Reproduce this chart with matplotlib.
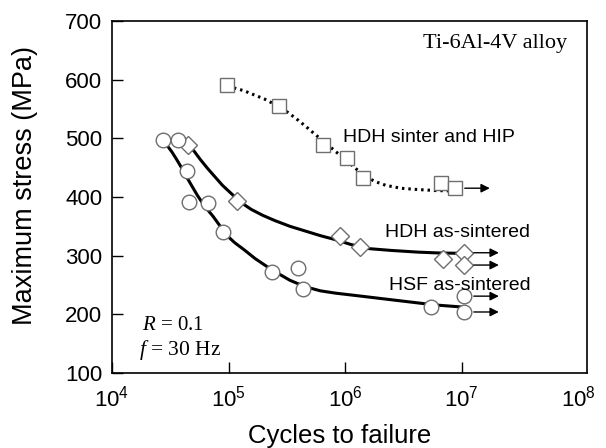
import numpy as np
import matplotlib
matplotlib.use("Agg")
import matplotlib.pyplot as plt

plt.rcParams['font.family'] = ['Liberation Sans', 'DejaVu Sans']
plt.rcParams['mathtext.fontset'] = 'custom'
plt.rcParams['mathtext.rm'] = 'Liberation Sans'
plt.rcParams['mathtext.it'] = 'Liberation Serif:italic'

# ---- data: HDH sinter and HIP (squares) ----
hip_N = [9.7e4, 2.7e5, 6.4e5, 1.04e6, 1.42e6, 6.6e6, 8.7e6]
hip_S = [591, 555, 489, 466, 432, 424, 415]
hip_runout_N = [8.7e6]
hip_runout_S = [415]
hip_fit_N = [1.11e5, 1.36e5, 1.66e5, 2.03e5, 2.48e5, 3.03e5, 3.72e5, 4.55e5, 5.57e5, 6.81e5,
             8.34e5, 1.02e6, 1.24e6, 1.51e6, 1.83e6, 2.22e6, 2.98e6, 4.0e6, 5.9e6, 1.0e7]
hip_fit_S = [586, 581, 574, 567, 558, 548, 535, 521, 506, 492,
             477, 463, 448, 434, 426, 420, 415, 413, 411, 410]

# ---- data: HDH as-sintered (diamonds) ----
hdh_N = [4.5e4, 1.17e5, 9.0e5, 1.34e6, 6.9e6, 1.04e7, 1.04e7]
hdh_S = [489, 393, 334, 315, 294, 305, 284]
hdh_runout_N = [1.04e7, 1.04e7]
hdh_runout_S = [305, 284]
hdh_fit_N = [4.08e4, 4.52e4, 5.11e4, 5.77e4, 6.65e4, 7.67e4, 8.85e4, 1.04e5, 1.27e5, 1.56e5, 1.95e5,
             2.48e5, 3.36e5, 4.55e5, 6.15e5, 8.34e5, 1.12e6, 1.6e6, 2.45e6, 4.24e6, 6.52e6, 1.0e7]
hdh_fit_S = [502, 490, 477, 463, 448, 434, 420, 407, 391, 379, 369,
             360, 350, 342, 334, 327, 319, 312, 309, 306, 304.5, 304]

# ---- data: HSF as-sintered (circles) ----
hsf_N = [2.72e4, 3.68e4, 4.43e4, 4.61e4, 6.65e4, 9.04e4, 2.38e5, 3.95e5, 4.37e5, 5.46e6, 1.04e7, 1.04e7]
hsf_S = [497, 497, 444, 392, 390, 340, 272, 279, 243, 213, 231, 204]
hsf_runout_N = [1.04e7, 1.04e7]
hsf_runout_S = [231, 204]
hsf_fit_N = [2.66e4, 2.94e4, 3.26e4, 3.61e4, 4.0e4, 4.43e4, 4.9e4, 5.43e4, 6.25e4, 7.36e4, 8.49e4,
             9.6e4, 1.13e5, 1.36e5, 1.69e5, 2.15e5, 2.75e5, 3.36e5, 4.55e5, 6.15e5, 8.34e5,
             1.37e6, 2.22e6, 3.62e6, 5.9e6, 1.0e7]
hsf_fit_S = [500, 489, 477, 463, 448, 432, 417, 402, 384, 367, 350,
             335, 322, 310, 295, 281, 268, 258, 247, 240, 236,
             231, 226, 221, 216, 212.5]

xticks = [1e4, 1e5, 1e6, 1e7, 1e8]
yticks = [100, 200, 300, 400, 500, 600, 700]

fig = plt.figure(figsize=(6.06, 4.48), dpi=100)
ax = fig.add_axes([112/606, 1-373/448, 475/606, 352/448])
ax.set_xscale('log')
ax.set_xlim(1e4, 1.186e8)
ax.set_ylim(100, 700)

edge = '#6e6e6e'
ax.plot(hip_fit_N, hip_fit_S, color='k', lw=2.2, ls=(0, (0.8, 1.3)), zorder=2)
ax.plot(hdh_fit_N, hdh_fit_S, color='k', lw=2.2, zorder=2)
ax.plot(hsf_fit_N, hsf_fit_S, color='k', lw=2.2, zorder=2)

ax.plot(hip_N, hip_S, ls='none', marker='s', ms=9.4, mfc='white', mec=edge, mew=1.0, zorder=3)
ax.plot(hdh_N, hdh_S, ls='none', marker='D', ms=9.0, mfc='white', mec=edge, mew=1.0, zorder=3)
ax.plot(hsf_N, hsf_S, ls='none', marker='o', ms=10.5, mfc='white', mec=edge, mew=1.0, zorder=3)

for N, S in list(zip(hip_runout_N, hip_runout_S)) + list(zip(hdh_runout_N, hdh_runout_S)) + list(zip(hsf_runout_N, hsf_runout_S)):
    ax.annotate('', xy=(N * 2.0, S), xytext=(N * 1.22, S),
                arrowprops=dict(arrowstyle='-|>', color='k', lw=1.0, mutation_scale=13,
                                shrinkA=0, shrinkB=0), zorder=4)

ax.set_xticks(xticks)
ax.set_yticks(yticks)
ax.minorticks_off()
ax.tick_params(direction='in', length=8, width=1, labelsize=16, top=False, right=False)
ax.tick_params(axis='x', pad=9)
ax.tick_params(axis='y', pad=7)
ax.xaxis.get_major_ticks()[-1].tick1line.set_visible(False)
for sp in ax.spines.values():
    sp.set_linewidth(1.2)

fig.text(340/606, 1-424/448, 'Cycles to failure', fontsize=18.5, ha='center', va='top')
fig.text(25/606, 1-185/448, 'Maximum stress (MPa)', fontsize=19.5, rotation=90,
         ha='center', va='center')

serif = ['Liberation Serif', 'DejaVu Serif']
ax.text(0.655, 0.935, 'Ti-6Al-4V alloy', transform=ax.transAxes, fontsize=16,
        family=serif, ha='left', va='center')
ax.text(0.486, 0.668, 'HDH sinter and HIP', transform=ax.transAxes, fontsize=14,
        ha='left', va='center')
ax.text(0.575, 0.398, 'HDH as-sintered', transform=ax.transAxes, fontsize=14,
        ha='left', va='center')
ax.text(0.583, 0.250, 'HSF as-sintered', transform=ax.transAxes, fontsize=14,
        ha='left', va='center')
ax.text(0.063, 0.136, '$R$ = 0.1', transform=ax.transAxes, fontsize=15,
        family=serif, ha='left', va='center')
ax.text(0.057, 0.065, '$f$ = 30 Hz', transform=ax.transAxes, fontsize=15.5,
        family=serif, ha='left', va='center')

fig.savefig('out.png', dpi=100)
